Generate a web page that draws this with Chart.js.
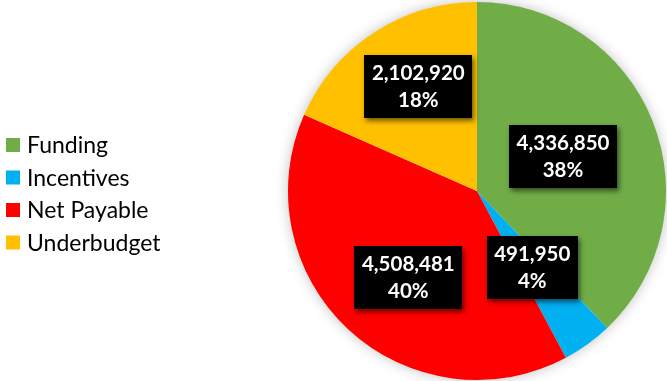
<!DOCTYPE html>
<html>
<head>
<meta charset="utf-8">
<script src="https://cdn.jsdelivr.net/npm/chart.js@4/dist/chart.umd.min.js"></script>
<style>
  html, body { margin: 0; padding: 0; background: #fff; }
  #wrap { width: 667px; height: 381px; position: relative; }
</style>
</head>
<body>
<div id="wrap"><canvas id="pieChart"></canvas></div>
<script>
const categories = ["Funding", "Incentives", "Net Payable", "Underbudget"];
const amounts = [4336850, 491950, 4508481, 2102920];
const percentLabels = ["38%", "4%", "40%", "18%"];
const sliceColors = ["#70AD47", "#00B0F0", "#FF0000", "#FFC000"];

// label placement: share of radius and angle nudge (degrees) per slice
const labelDist = [0.49, 0.5, 0.585, 0.635];
const labelTurn = [0, 0, -4.5, 3.8];

const pieShadow = {
  id: "pieShadow",
  beforeDatasetsDraw(chart) {
    const arc = chart.getDatasetMeta(0).data[0];
    if (!arc) return;
    const ctx = chart.ctx;
    ctx.save();
    ctx.shadowColor = "rgba(0,0,0,0.28)";
    ctx.shadowBlur = 14;
    ctx.fillStyle = "#fff";
    ctx.beginPath();
    ctx.arc(arc.x, arc.y, arc.outerRadius - 1, 0, Math.PI * 2);
    ctx.fill();
    ctx.restore();
  }
};

const boxLabels = {
  id: "boxLabels",
  afterDatasetsDraw(chart) {
    const ctx = chart.ctx;
    const arcs = chart.getDatasetMeta(0).data;
    ctx.save();
    ctx.font = "bold 20.5px Lato";
    ctx.textAlign = "center";
    ctx.textBaseline = "middle";
    arcs.forEach((arc, i) => {
      const mid = (arc.startAngle + arc.endAngle) / 2 + labelTurn[i] * Math.PI / 180;
      const r = arc.outerRadius * labelDist[i];
      const x = arc.x + Math.cos(mid) * r;
      const y = arc.y + Math.sin(mid) * r;
      const line1 = amounts[i].toLocaleString("en-US");
      const line2 = percentLabels[i];
      const w = Math.max(ctx.measureText(line1).width, ctx.measureText(line2).width) + 15;
      const h = 63;
      ctx.save();
      ctx.shadowColor = "rgba(0,0,0,0.55)";
      ctx.shadowBlur = 5;
      ctx.shadowOffsetX = 2;
      ctx.shadowOffsetY = 3;
      ctx.fillStyle = "#000";
      ctx.fillRect(Math.round(x - w / 2), Math.round(y - h / 2), Math.round(w), h);
      ctx.restore();
      ctx.fillStyle = "#fff";
      ctx.fillText(line1, x, y - 13);
      ctx.fillText(line2, x, y + 14);
    });
    ctx.restore();
  }
};

const sideLegend = {
  id: "sideLegend",
  afterDraw(chart) {
    const ctx = chart.ctx;
    ctx.save();
    ctx.font = "23px Lato";
    ctx.textBaseline = "middle";
    categories.forEach((name, i) => {
      const y = 145 + i * 32.5;
      ctx.fillStyle = sliceColors[i];
      ctx.fillRect(6, y - 7, 14, 14);
      ctx.fillStyle = "#000";
      ctx.fillText(name, 27, y + 1);
    });
    ctx.restore();
  }
};

new Chart(document.getElementById("pieChart"), {
  type: "pie",
  data: {
    labels: categories,
    datasets: [{
      data: amounts,
      backgroundColor: sliceColors,
      borderWidth: 0
    }]
  },
  options: {
    responsive: true,
    maintainAspectRatio: false,
    animation: false,
    layout: { padding: { left: 288, right: 1, top: 2, bottom: 1 } },
    plugins: {
      legend: { display: false },
      tooltip: { enabled: false }
    }
  },
  plugins: [pieShadow, boxLabels, sideLegend]
});
</script>
</body>
</html>
